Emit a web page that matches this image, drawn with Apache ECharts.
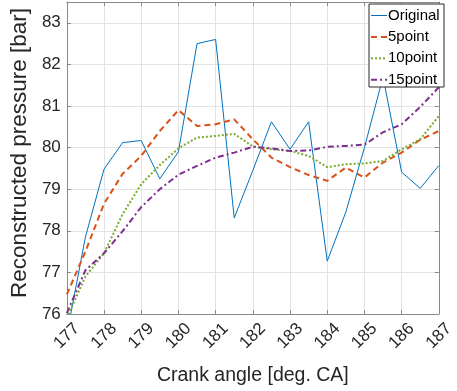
<!DOCTYPE html>
<html>
<head>
<meta charset="utf-8">
<script src="https://cdn.jsdelivr.net/npm/echarts@6/dist/echarts.min.js"></script>
<style>html,body{margin:0;padding:0;background:#fff}#c{width:457px;height:391px}</style>
</head>
<body>
<div id="c"></div>
<script>
const crankAngle = [177,177.5,178,178.5,179,179.5,180,180.5,181,181.5,182,182.5,183,183.5,184,184.5,185,185.5,186,186.5,187];
const original = [75.5,77.85,79.48,80.12,80.17,79.25,79.9,82.5,82.6,78.31,79.45,80.62,79.96,80.62,77.27,78.45,80.0,81.7,79.41,79.02,79.57];
const point5 = [76.47,77.5,78.65,79.37,79.8,80.4,80.9,80.52,80.56,80.68,80.2,79.76,79.53,79.34,79.2,79.52,79.28,79.64,79.88,80.19,80.4];
const point10 = [75.9,76.9,77.46,78.4,79.12,79.58,79.98,80.24,80.28,80.33,80.03,79.96,79.92,79.8,79.53,79.6,79.62,79.68,79.96,80.2,80.76];
const point15 = [76.02,77.05,77.46,77.99,78.57,79.0,79.35,79.56,79.76,79.88,80.02,79.98,79.92,79.93,80.02,80.04,80.07,80.37,80.56,80.98,81.45];
const seriesNames = ['Original','5point','10point','15point'];

const FONT = '"Liberation Sans", Arial, sans-serif';
const AXC = '#8a8a8a';
const TXT = '#262626';
const colors = ['#0072BD', '#D95319', '#77AC30', '#7E2F8E'];
const widths = [1, 2, 2, 2];
const dashes = [null, [6, 4], [2, 2], [6, 3, 2, 3]];
const values = [original, point5, point10, point15];
const pairs = arr => crankAngle.map((x, i) => [x, arr[i]]);

const chart = echarts.init(document.getElementById('c'), null, {renderer: 'canvas'});
const axisCommon = {
  axisLine: {show: true, lineStyle: {color: AXC, width: 1}},
  axisTick: {show: true, inside: true, length: 4, lineStyle: {color: AXC}},
};

// legend drawn as graphic (plain line samples like the reference), above the series
const legX = 369, legY = 4, legW = 75, legH = 83, rowH = 21.4, firstRow = 15;
const legendEls = [{
  type: 'rect', z: 100, zlevel: 1, shape: {x: legX, y: legY, width: legW, height: legH},
  style: {fill: '#fff', stroke: '#262626', lineWidth: 1}
}];
seriesNames.forEach((n, i) => {
  const cy = legY + firstRow - 3.5 + i * rowH;
  legendEls.push({
    type: 'line', z: 101, zlevel: 1, shape: {x1: legX + 2, y1: cy, x2: legX + 18, y2: cy},
    style: {stroke: colors[i], lineWidth: widths[i], lineDash: dashes[i] || null}
  });
  legendEls.push({
    type: 'text', z: 101, zlevel: 1, x: legX + 19, y: cy,
    style: {text: n, fontFamily: FONT, fontSize: 15, fill: '#000', verticalAlign: 'middle', align: 'left'}
  });
});

chart.setOption({
  animation: false,
  backgroundColor: '#fff',
  grid: {left: 44, right: 9, top: 2, bottom: 69, containLabel: false},
  xAxis: [{
    type: 'value', min: 177, max: 187, interval: 1,
    name: 'Crank angle [deg. CA]', nameLocation: 'middle', nameGap: 52,
    nameTextStyle: {fontFamily: FONT, fontSize: 19.5, color: TXT},
    ...axisCommon,
    axisLabel: {rotate: 45, fontFamily: FONT, fontSize: 17, color: TXT, margin: 22,
      align: 'center', verticalAlign: 'middle'},
    splitLine: {show: true, lineStyle: {color: '#e3e3e3', width: 1}}
  }, {
    type: 'value', position: 'top', min: 177, max: 187, interval: 1,
    ...axisCommon, axisLabel: {show: false}, splitLine: {show: false}
  }],
  yAxis: [{
    type: 'value', min: 76, max: 83.5, interval: 1,
    name: 'Reconstructed pressure [bar]', nameLocation: 'middle', nameGap: 31,
    nameTextStyle: {fontFamily: FONT, fontSize: 22.5, color: TXT, padding: [0, 0, 0, 10]},
    ...axisCommon,
    axisLabel: {fontFamily: FONT, fontSize: 17, color: TXT, margin: 6,
      formatter: v => (Number.isInteger(v) ? String(v) : '')},
    splitLine: {show: true, lineStyle: {color: '#e3e3e3', width: 1}}
  }, {
    type: 'value', position: 'right', min: 76, max: 83.5, interval: 1,
    ...axisCommon, axisLabel: {show: false}, splitLine: {show: false}
  }],
  graphic: legendEls,
  series: seriesNames.map((n, i) => ({
    name: n, type: 'line', data: pairs(values[i]), showSymbol: false, symbol: 'none',
    lineStyle: {color: colors[i], width: widths[i], type: dashes[i] || 'solid'},
    itemStyle: {color: colors[i]}, z: 2 + i
  }))
});
</script>
</body>
</html>
